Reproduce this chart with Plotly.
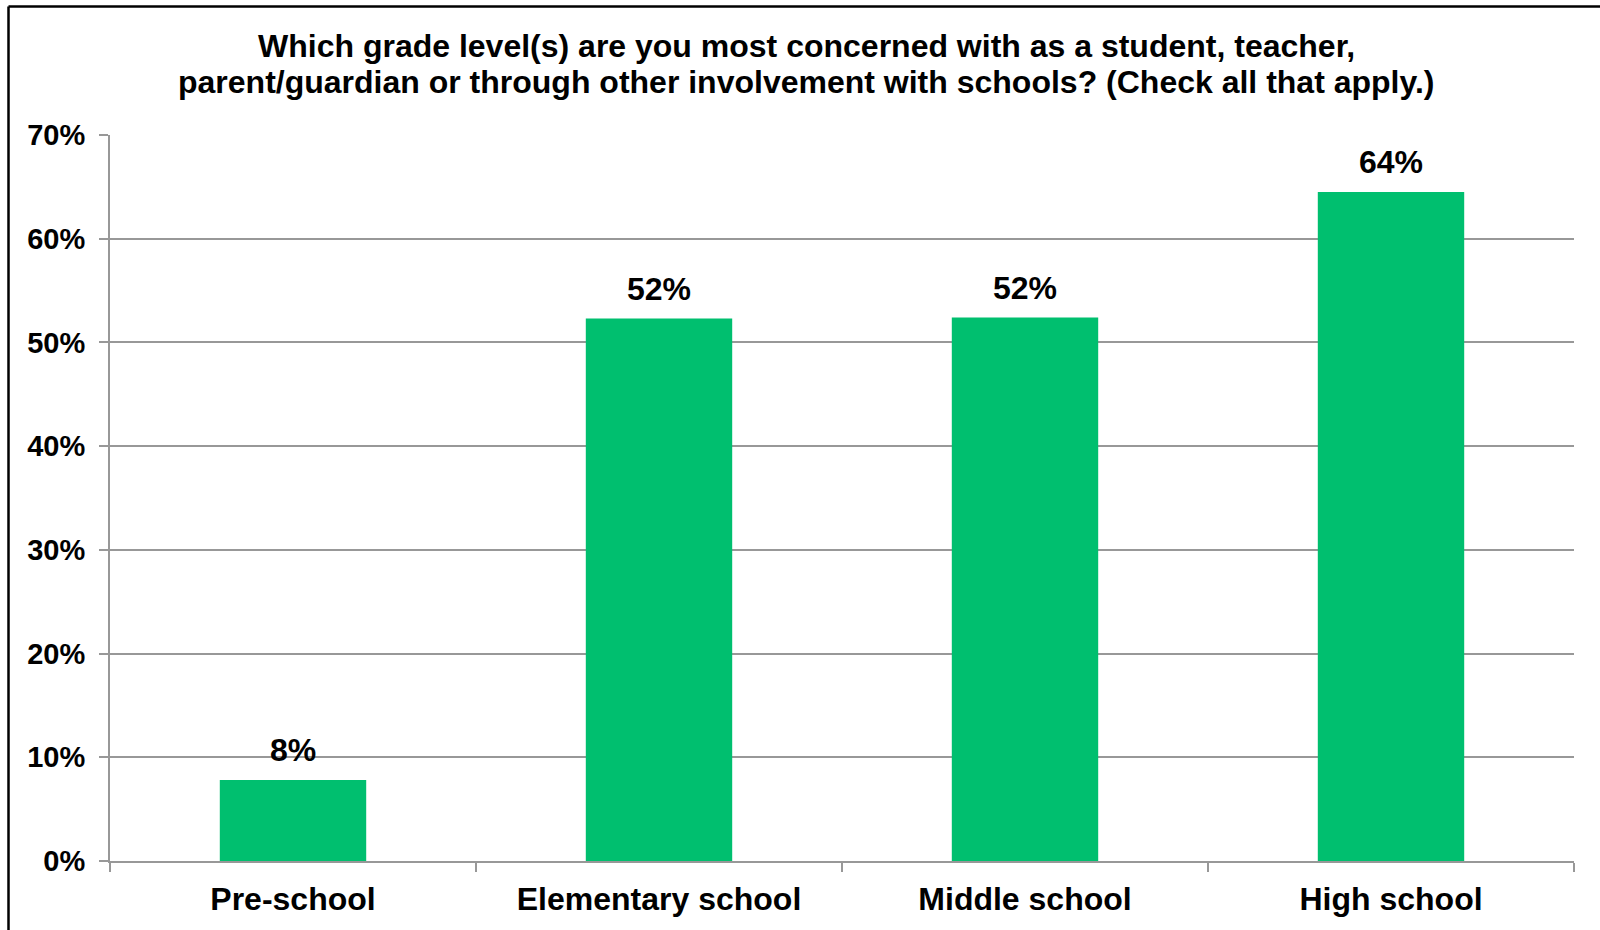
import plotly.graph_objects as go

categories = ["Pre-school", "Elementary school", "Middle school", "High school"]
values = [7.8, 52.3, 52.4, 64.5]
labels = ["8%", "52%", "52%", "64%"]
y_ticks = [0, 10, 20, 30, 40, 50, 60, 70]
y_tick_labels = [f"{v}%" for v in y_ticks]
title_lines = [
    "Which grade level(s) are you most concerned with as a student, teacher,",
    "parent/guardian or through other involvement with schools? (Check all that apply.)",
]

W, H = 1600, 930
ML, MR, MT, MB = 110, 26, 135, 69
pw, ph = W - ML - MR, H - MT - MB

GREEN = "#00BF6F"
GRID = "#989898"
FONT = "Liberation Sans, Arial, sans-serif"


def px_x(x):
    return (x - ML) / pw


def px_y(y):
    return 1 - (y - MT) / ph


fig = go.Figure()
fig.add_trace(go.Bar(
    x=categories, y=values, marker=dict(color=GREEN, line=dict(width=0)),
    width=0.4, hoverinfo="skip",
))

for c, v, t in zip(categories, values, labels):
    fig.add_annotation(x=c, y=v, text=t, showarrow=False, yanchor="bottom",
                       yshift=10, font=dict(family=FONT, size=32, color="black", weight="bold"))

for line, yc in zip(title_lines, [46.5, 82.5]):
    fig.add_annotation(xref="paper", yref="paper", x=px_x(806), y=px_y(yc),
                       xanchor="center", yanchor="middle", text=line, showarrow=False,
                       font=dict(family=FONT, size=32, color="black", weight="bold"))

# frame lines (top and left only visible)
fig.add_shape(type="line", xref="paper", yref="paper", x0=px_x(8.5), x1=px_x(1700),
              y0=px_y(6.5), y1=px_y(6.5), line=dict(color="black", width=2.5))
fig.add_shape(type="line", xref="paper", yref="paper", x0=px_x(8.5), x1=px_x(8.5),
              y0=px_y(6.5), y1=px_y(1000), line=dict(color="black", width=2.5))

fig.update_layout(
    width=W, height=H,
    margin=dict(l=ML, r=MR, t=MT, b=MB, autoexpand=False),
    paper_bgcolor="white", plot_bgcolor="white",
    showlegend=False,
    xaxis=dict(
        type="category", showgrid=False, showline=True, linecolor=GRID, linewidth=2,
        ticks="outside", tickson="boundaries", ticklen=9, tickcolor=GRID, tickwidth=2,
        tickfont=dict(family=FONT, size=32, color="black", weight="bold"),
        ticklabelstandoff=9, range=[-0.5, 3.5], fixedrange=True,
    ),
    yaxis=dict(
        range=[0, 70], tickvals=y_ticks, ticktext=y_tick_labels,
        showgrid=True, gridcolor=GRID, gridwidth=2, zeroline=False,
        showline=True, linecolor=GRID, linewidth=2,
        ticks="outside", ticklen=9, tickcolor=GRID, tickwidth=2,
        tickfont=dict(family=FONT, size=29, color="black", weight="bold"),
        ticklabelstandoff=8, fixedrange=True,
    ),
)

fig.write_html("out.html", post_script="document.body.style.margin='0';",
               config={"displayModeBar": False})
